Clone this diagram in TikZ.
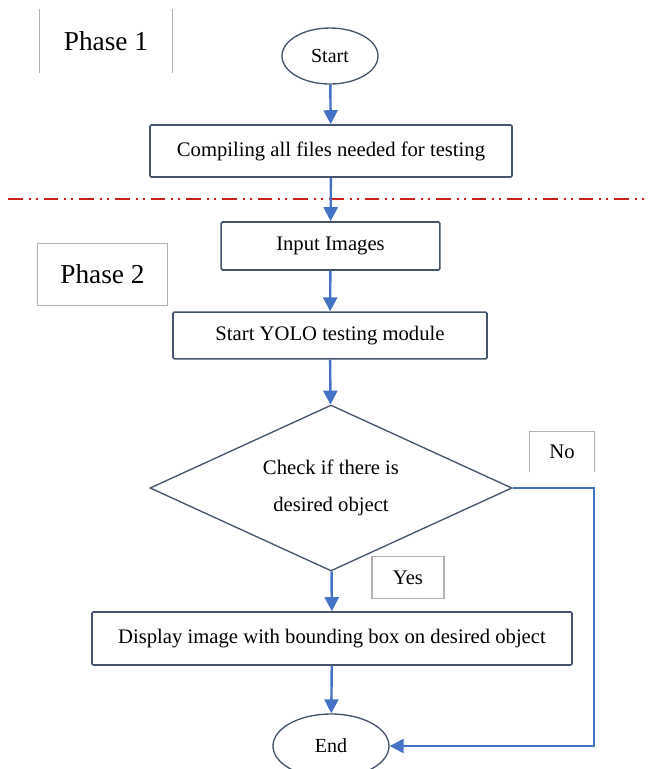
\documentclass[tikz,border=0pt]{standalone}
\usepackage{fontspec}
\setmainfont{Liberation Serif}
\usepackage{xcolor}
\usetikzlibrary{arrows.meta, positioning, calc, shapes.geometric}

\definecolor{edgegray}{RGB}{68,84,106}
\definecolor{flowblue}{RGB}{68,114,196}
\definecolor{cutred}{RGB}{205,30,30}

\begin{document}
\begin{tikzpicture}[
          x=0.75pt, y=-0.75pt,
          terminal/.style={ellipse, draw=edgegray, line width=1pt, inner sep=0pt, font=\fontsize{15}{17}\selectfont},
          process/.style={rectangle, draw=edgegray, line width=1.2pt, rounded corners=1pt, inner sep=0pt, font=\fontsize{15.5}{18}\selectfont},
          decision/.style={diamond, draw=edgegray, line width=1pt, aspect=2.18, inner sep=0pt, align=center, font=\fontsize{15.5}{28}\selectfont},
          tag/.style={rectangle, draw=black!30, line width=0.8pt, inner sep=0pt, font=\fontsize{15.5}{18}\selectfont},
          phase/.style={rectangle, inner sep=0pt, font=\fontsize{20.5}{24}\selectfont},
          arrow/.style={-{Triangle[length=10.5pt, width=10.5pt]}, line width=1.8pt, draw=flowblue},
          link/.style={line width=1.8pt, draw=flowblue}
      ]
      \useasboundingbox (0,0) rectangle (648,769);

      % Phase separator
      \coordinate (cutL) at (8,199);
      \coordinate (cutR) at (648,199);
      \draw[cutred, line width=1.5pt, dash pattern=on 11pt off 4.5pt on 1.5pt off 3.75pt on 1.5pt off 4.5pt] (cutL) -- (cutR);

      % Flow steps
      \node[terminal, minimum width=72pt, minimum height=42pt] (start) at (330,56) {Start};
      \node[process, minimum width=271.5pt, minimum height=39pt] (compile) at (331,151) {Compiling all files needed for testing};
      \node[process, minimum width=164pt, minimum height=36pt] (input) at (330.5,246) {Input Images};
      \node[process, minimum width=235.5pt, minimum height=35pt] (yolo) at (330,335.5) {Start YOLO testing module};
      \node[decision, minimum width=271.5pt, minimum height=124.5pt] (check) at (331,488) {Check if there is\\desired object};
      \node[process, minimum width=360pt, minimum height=39.75pt] (display) at (332,638.5) {Display image with bounding box on desired object};
      \node[terminal, minimum width=87pt, minimum height=48pt] (finish) at (331,746) {End};

      % Phase labels
      \node[phase, minimum width=99pt, minimum height=47pt] (phaseA) at (106,41) {Phase 1};
      \draw[black!30, line width=0.8pt] (phaseA.north west) -- (phaseA.south west);
      \draw[black!30, line width=0.8pt] (phaseA.north east) -- (phaseA.south east);
      \node[tag, font=\fontsize{20.5}{24}\selectfont, minimum width=98pt, minimum height=47pt] (phaseB) at (102.5,274.5) {Phase 2};

      % Branch labels
      \node[phase, font=\fontsize{15.5}{18}\selectfont, minimum width=48pt, minimum height=30pt] (no) at (562,452) {No};
      \draw[black!30, line width=0.8pt] (no.south west) -- (no.north west) -- (no.north east) -- (no.south east);
      \node[tag, minimum width=54pt, minimum height=31pt] (yes) at (408,577.5) {Yes};

      % Connectors
      \coordinate (turnA) at (594,488);
      \coordinate (turnB) at (594,746);
      \draw[arrow] (start) -- (compile);
      \draw[arrow] (compile) -- (input);
      \draw[arrow] (input) -- (yolo);
      \draw[arrow] (yolo) -- (check);
      \draw[arrow] (check) -- (display);
      \draw[arrow] (display) -- (finish);
      \draw[arrow] (check.east) -- (turnA) -- (turnB) -- (finish.east);

      \end{tikzpicture}
\end{document}
